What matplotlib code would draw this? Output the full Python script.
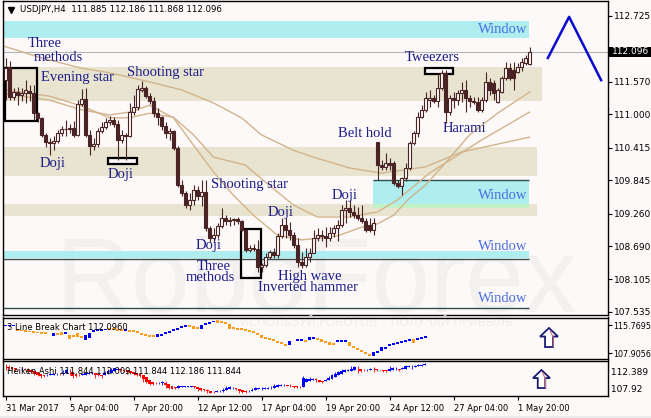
import numpy as np
import matplotlib
matplotlib.use("Agg")
import matplotlib.pyplot as plt
from matplotlib.patches import Rectangle, Polygon

# ==================== DATA ====================
# USDJPY H4 candles (bar 0 = 31 Mar 2017 12:00)
opens = [111.60, 111.83, 111.30, 111.39, 111.34, 111.37, 111.41, 111.37, 111.02, 110.94,
         110.64, 110.51, 110.50, 110.53, 110.67, 110.74, 110.75, 110.76, 110.64, 111.18,
         111.27, 110.64, 110.44, 110.48, 110.71, 110.78, 110.87, 110.90, 110.83, 110.55,
         110.64, 110.62, 111.04, 111.13, 111.43, 111.46, 111.32, 111.23, 111.02, 110.95,
         110.80, 110.67, 110.71, 110.41, 109.76, 109.62, 109.41, 109.50, 109.67, 109.57,
         109.64, 109.01, 108.83, 108.88, 109.04, 109.18, 109.13, 109.15, 109.16, 109.13,
         108.97, 108.62, 108.66, 108.64, 108.32, 108.36, 108.50, 108.58, 108.53, 108.87,
         109.06, 108.97, 108.88, 108.71, 108.41, 108.36, 108.50, 108.57, 108.83, 108.88,
         108.87, 108.83, 108.92, 109.01, 109.06, 109.32, 109.36, 109.29, 109.23, 109.18,
         109.13, 109.06, 108.97, 110.51, 110.11, 110.08, 110.15, 110.15, 109.80, 109.74,
         109.88, 110.06, 110.50, 110.67, 110.95, 111.08, 111.25, 111.29, 111.23, 111.46,
         111.73, 111.04, 111.29, 111.25, 111.37, 111.43, 111.29, 111.23, 111.22, 111.08,
         111.25, 111.57, 111.55, 111.22, 111.39, 111.64, 111.81, 111.78, 111.74, 111.83,
         111.90, 111.885]
highs = [111.99, 111.94, 111.46, 111.48, 111.46, 111.60, 111.51, 111.51, 111.04, 110.95,
         110.67, 110.59, 110.62, 110.73, 110.80, 110.90, 110.83, 110.88, 111.25, 111.44,
         111.46, 110.73, 110.59, 110.76, 110.87, 110.94, 110.97, 110.95, 110.90, 110.73,
         110.67, 111.20, 111.34, 111.51, 111.59, 111.50, 111.37, 111.30, 111.11, 110.97,
         110.87, 110.76, 110.73, 110.44, 109.85, 109.66, 109.62, 109.76, 109.74, 109.85,
         109.85, 109.04, 109.01, 109.09, 109.36, 109.23, 109.20, 109.18, 109.20, 109.15,
         108.99, 108.71, 108.73, 108.80, 108.39, 108.57, 108.62, 108.66, 108.92, 109.18,
         109.18, 109.11, 108.94, 108.83, 108.59, 108.66, 108.66, 108.97, 109.01, 108.97,
         109.02, 109.02, 109.06, 109.15, 109.41, 109.50, 109.50, 109.41, 109.37, 109.41,
         109.18, 109.18, 109.18, 110.51, 110.20, 110.32, 110.23, 110.18, 109.85, 109.90,
         110.15, 110.53, 110.71, 111.04, 111.16, 111.39, 111.43, 111.34, 111.73, 111.78,
         111.78, 111.34, 111.39, 111.43, 111.57, 111.60, 111.34, 111.30, 111.30, 111.30,
         111.74, 111.64, 111.60, 111.46, 111.67, 111.92, 111.90, 111.92, 111.90, 111.99,
         112.04, 112.186]
lows = [111.25, 111.25, 111.25, 111.16, 111.23, 111.20, 111.23, 110.90, 110.87, 110.60,
        110.43, 110.29, 110.37, 110.50, 110.62, 110.62, 110.67, 110.60, 110.62, 111.15,
        110.60, 110.29, 110.37, 110.43, 110.67, 110.74, 110.81, 110.78, 110.20, 110.50,
        110.20, 110.60, 110.99, 111.08, 111.39, 111.29, 111.18, 110.95, 110.81, 110.73,
        110.59, 110.55, 110.37, 109.73, 109.57, 109.36, 109.32, 109.41, 109.50, 109.39,
        108.95, 108.76, 108.76, 108.83, 109.01, 109.06, 109.04, 109.06, 109.08, 108.95,
        108.58, 108.58, 108.60, 108.23, 108.23, 108.32, 108.46, 108.48, 108.48, 108.83,
        108.83, 108.80, 108.66, 108.32, 108.30, 108.32, 108.41, 108.57, 108.78, 108.78,
        108.67, 108.78, 108.85, 108.78, 109.02, 109.09, 109.20, 109.18, 109.15, 109.09,
        108.94, 108.94, 108.88, 109.85, 110.02, 110.02, 110.02, 109.76, 109.71, 109.59,
        109.83, 110.02, 110.46, 110.60, 110.94, 111.04, 111.13, 111.20, 111.13, 111.43,
        110.85, 110.99, 111.11, 111.16, 111.22, 111.04, 111.13, 111.18, 111.04, 111.04,
        111.22, 111.34, 111.25, 111.20, 111.37, 111.60, 111.60, 111.43, 111.73, 111.76,
        111.87, 111.868]
closes = [111.81, 111.30, 111.39, 111.34, 111.37, 111.43, 111.37, 111.02, 110.94, 110.64,
          110.51, 110.50, 110.53, 110.67, 110.74, 110.75, 110.76, 110.64, 111.18, 111.27,
          110.64, 110.44, 110.48, 110.71, 110.78, 110.87, 110.90, 110.83, 110.55, 110.64,
          110.62, 111.04, 111.13, 111.44, 111.46, 111.32, 111.23, 111.02, 110.95, 110.80,
          110.67, 110.71, 110.41, 109.76, 109.62, 109.41, 109.50, 109.67, 109.57, 109.64,
          109.01, 108.83, 108.88, 109.04, 109.18, 109.13, 109.15, 109.16, 109.13, 108.97,
          108.62, 108.66, 108.64, 108.32, 108.36, 108.50, 108.58, 108.53, 108.87, 109.06,
          108.97, 108.88, 108.71, 108.41, 108.36, 108.50, 108.57, 108.83, 108.88, 108.87,
          108.83, 108.92, 109.01, 109.06, 109.32, 109.36, 109.29, 109.23, 109.18, 109.13,
          108.97, 108.97, 109.09, 110.11, 110.08, 110.15, 110.11, 109.80, 109.74, 109.88,
          110.06, 110.50, 110.67, 110.95, 111.08, 111.29, 111.29, 111.23, 111.46, 111.73,
          111.04, 111.29, 111.25, 111.37, 111.43, 111.29, 111.23, 111.22, 111.08, 111.25,
          111.57, 111.43, 111.37, 111.43, 111.64, 111.81, 111.64, 111.64, 111.83, 111.92,
          111.99, 112.096]

tick_pos = [0, 16, 32, 48, 64, 80, 96, 112, 128]
tick_labels = ["31 Mar 2017", "5 Apr 04:00", "7 Apr 20:00", "12 Apr 12:00", "17 Apr 04:00",
               "19 Apr 20:00", "24 Apr 12:00", "27 Apr 04:00", "1 May 20:00"]
price_ticks = [112.725, 111.570, 111.000, 110.415, 109.845, 109.260, 108.690, 108.105, 107.535]
bid = 112.096

# moving averages (bar index, price)
ma_slow_x = [-0.6, 9, 19, 26, 36, 44, 52, 59, 64, 72, 77, 86, 94, 105, 114, 131]
ma_slow_y = [112.20, 111.99, 111.81, 111.73, 111.57, 111.43, 111.20, 110.94, 110.64, 110.37,
             110.25, 110.06, 109.97, 110.08, 110.34, 110.60]
ma_mid_x = [-0.6, 11, 19, 26, 31, 36, 42, 47, 52, 60, 65, 72, 78, 86, 93, 98, 106, 119, 131]
ma_mid_y = [111.43, 111.32, 111.15, 110.94, 110.94, 111.02, 110.95, 110.64, 110.25, 110.11,
            109.81, 109.41, 109.20, 109.20, 109.29, 109.50, 109.97, 110.55, 111.04]
ma_fast_x = [-0.6, 11, 19, 26, 31, 36, 42, 47, 52, 57, 62, 68, 74, 79, 83, 89, 93, 97, 101,
             105, 110, 116, 123, 131]
ma_fast_y = [111.37, 111.25, 111.08, 110.99, 111.04, 111.16, 110.94, 110.46, 109.99, 109.58,
             109.23, 108.88, 108.80, 108.83, 108.87, 109.02, 109.08, 109.23, 109.53, 109.76,
             110.15, 110.64, 111.02, 111.39]

# zigzag forecast in the top right corner
zig_x = [135.6, 140.9, 148.9]
zig_y = [111.99, 112.71, 111.60]

# 3 Line Break bricks: position, top, bottom, up(1)/down(0)
lb_x = [0, 1, 2, 3, 4, 5, 6, 7, 8, 9, 10, 12, 13, 14, 15, 16, 17, 18, 19, 20,
        21, 22, 23, 24, 25, 26, 27, 28, 29, 30, 31, 32, 33, 34, 35, 36, 37, 38, 39, 40,
        41, 42, 43, 44, 45, 46, 47, 48, 49, 50, 51, 52, 53, 54, 55, 56, 57, 58, 59, 60,
        61, 62, 63, 64, 65, 66, 67, 68, 69, 70, 71, 73, 74, 75, 76, 77, 78, 79, 80, 81,
        82, 83, 84, 85, 86, 87, 88, 89, 90, 91, 92, 93, 94, 95, 96, 97, 98, 99, 100, 101,
        102, 103, 104, 105]
lb_hi = [115.63, 115.63, 115.63, 114.37, 114.22, 114.08, 113.94, 113.80, 113.66, 113.52,
         113.52, 113.52, 113.24, 113.80, 113.52, 112.96, 112.68, 113.52, 112.40, 112.96,
         113.52, 114.08, 114.37, 114.37, 114.51, 114.65, 114.65, 114.37, 114.37, 114.37,
         114.08, 114.08, 113.80, 113.24, 112.96, 112.68, 112.68, 113.24, 112.96, 113.52,
         113.80, 114.37, 114.65, 115.21, 115.49, 115.49, 115.49, 114.93, 115.77, 116.05,
         116.33, 116.75, 117.17, 116.61, 116.33, 116.05, 114.93, 114.65, 114.65, 114.37,
         114.08, 113.80, 113.24, 112.96, 112.12, 111.84, 111.56, 111.00, 110.71, 110.15,
         111.28, 111.56, 111.56, 111.28, 112.40, 112.40, 111.84, 111.84, 111.00, 111.00,
         110.71, 111.28, 111.28, 111.28, 111.00, 109.59, 109.03, 108.47, 107.91, 107.34,
         108.19, 108.19, 109.59, 109.31, 110.15, 110.43, 110.71, 111.00, 111.28, 111.56,
         111.84, 111.84, 112.12, 112.40]
lb_lo = [115.63, 115.63, 115.63, 114.37, 114.22, 114.08, 113.94, 113.80, 113.66, 113.52,
         113.52, 112.68, 113.24, 112.96, 113.52, 111.84, 112.68, 112.40, 112.40, 111.56,
         112.12, 114.08, 114.37, 114.37, 114.51, 114.65, 114.65, 114.37, 114.37, 114.37,
         114.08, 114.08, 113.80, 113.24, 112.96, 112.68, 112.68, 112.40, 112.96, 113.52,
         113.80, 114.37, 114.65, 115.21, 115.49, 115.49, 114.65, 114.93, 114.65, 116.05,
         116.33, 116.75, 116.33, 116.61, 116.33, 114.65, 114.93, 114.65, 114.65, 114.37,
         114.08, 113.80, 113.24, 112.12, 112.12, 111.84, 111.56, 111.00, 110.71, 110.15,
         110.15, 111.56, 111.56, 111.28, 111.56, 111.84, 111.84, 111.00, 111.00, 110.15,
         110.15, 111.28, 111.28, 111.28, 109.87, 109.59, 109.03, 108.47, 107.91, 107.34,
         107.06, 108.19, 108.47, 109.31, 110.15, 110.43, 110.71, 111.00, 111.28, 111.56,
         110.71, 111.84, 112.12, 112.40]
lb_up = [1, 1, 1, 0, 0, 0, 0, 0, 0, 0, 0, 1, 0, 0, 1, 0, 0, 0, 0, 1,
         1, 1, 1, 1, 1, 0, 0, 0, 0, 1, 0, 0, 0, 0, 0, 0, 0, 1, 1, 1,
         1, 1, 1, 1, 1, 0, 0, 0, 1, 1, 1, 1, 0, 0, 0, 0, 0, 0, 0, 0,
         0, 0, 0, 0, 0, 0, 0, 0, 0, 0, 1, 1, 1, 0, 1, 1, 0, 0, 0, 0,
         0, 1, 1, 1, 0, 0, 0, 0, 0, 0, 1, 1, 1, 1, 1, 1, 1, 1, 1, 1,
         0, 1, 1, 1]

# ==================== STYLE ====================
W, H = 651, 418
BG = "#fdf9f8"
CANDLE = "#4a2424"
NAVY = "#1c1c8a"
WINBLUE = "#4a6ee0"
CYAN = "#aeeeee"
TAN = "#e8e4d0"
GREEN = "#c4f2c8"
MA_COL = "#d2b48c"
LINE_DK = "#2f4f4f"
SERIF = "Liberation Serif"
XL = (-0.625, 150.625)


def fx(px):
    return px / W


def fy(py):
    return 1 - py / H


fig = plt.figure(figsize=(W / 100, H / 100), dpi=100, facecolor=BG)
ax = fig.add_axes([fx(3), fy(315), 605 / W, 314 / H])
ax1 = fig.add_axes([fx(3), fy(358.5), 605 / W, 41 / H])
ax2 = fig.add_axes([fx(3), fy(396), 605 / W, 35.5 / H])

for a in (ax, ax1, ax2):
    a.set_facecolor(BG)
    a.set_xlim(*XL)
    for s in a.spines.values():
        s.set_color("black")
        s.set_linewidth(1.0)
    a.yaxis.tick_right()
    a.tick_params(axis="y", length=3, width=0.8, pad=1.5, labelsize=6.5, colors="black")
    a.tick_params(axis="x", bottom=False, labelbottom=False)

ax.set_ylim(107.482, 112.988)
ax1.set_ylim(106.361, 117.876)
ax2.set_ylim(107.9, 112.5)

# ==================== MAIN: zones ====================
def band(y0, y1, x0, x1, col, z=1):
    ax.add_patch(Rectangle((x0, y0), x1 - x0, y1 - y0, facecolor=col, edgecolor="none", zorder=z))

band(112.339, 112.637, XL[0], 130.9, CYAN)
band(111.235, 111.831, XL[0], 134.0, TAN)
band(109.919, 110.428, XL[0], 132.9, TAN)
band(109.218, 109.428, XL[0], 132.9, TAN)
band(109.358, 109.849, 91.9, 130.9, CYAN)
band(109.358, 109.428, 91.9, 130.9, GREEN)
band(108.482, 108.604, XL[0], 130.9, CYAN)
ax.hlines([108.464, 107.605], XL[0], 130.9, color=LINE_DK, lw=1.0, zorder=1.5)
ax.hlines(109.849, 91.9, 130.9, color=LINE_DK, lw=1.0, zorder=1.5)
ax.axhline(bid, color="#b4b4b4", lw=0.8, zorder=1.5)

# watermark
ax.text(fx(55), fy(312), "RoboForex", transform=fig.transFigure, fontsize=76,
        family="Liberation Sans", color="#f4f0f0", ha="left", va="baseline", zorder=0.5)

# moving averages
ax.plot(ma_slow_x, ma_slow_y, color=MA_COL, lw=1.0, zorder=2)
ax.plot(ma_mid_x, ma_mid_y, color=MA_COL, lw=1.0, zorder=2)
ax.plot(ma_fast_x, ma_fast_y, color=MA_COL, lw=1.0, zorder=2)

# pattern boxes
boxes = [(-0.1, 7.9, 110.88, 111.81, False), (25.6, 32.9, 110.13, 110.23, True),
         (58.9, 63.9, 108.13, 108.99, False), (104.9, 111.9, 111.71, 111.81, True)]
for x0, x1, y0, y1, filled in boxes:
    ax.add_patch(Rectangle((x0, y0), x1 - x0, y1 - y0, facecolor=BG if filled else "none",
                           edgecolor="black", lw=1.6, zorder=3))

# candles
o, h, l, c = map(np.array, (opens, highs, lows, closes))
idx = np.arange(len(c))
up = c >= o
ax.vlines(idx, l, h, color=CANDLE, lw=0.8, zorder=4)
body_lo = np.minimum(o, c)
body_h = np.maximum(np.abs(c - o), 0.004)
ax.bar(idx[up], body_h[up], bottom=body_lo[up], width=0.6, facecolor=BG,
       edgecolor=CANDLE, lw=0.8, zorder=5)
ax.bar(idx[~up], body_h[~up], bottom=body_lo[~up], width=0.6, facecolor=CANDLE,
       edgecolor=CANDLE, lw=0.8, zorder=5)

# zigzag
ax.plot(zig_x, zig_y, color="#0a0ad0", lw=1.8, zorder=6, clip_on=False)

# labels
labels = [
    ("Three", 5.6, 112.234), ("methods", 7.1, 111.989), ("Evening star", 8.9, 111.655),
    ("Shooting star", 30.4, 111.743), ("Doji", 8.6, 110.130), ("Doji", 25.6, 109.937),
    ("Shooting star", 51.4, 109.762), ("Doji", 47.6, 108.700), ("Three", 47.9, 108.330),
    ("methods", 45.1, 108.140), ("Doji", 65.6, 109.288), ("High wave", 68.1, 108.149),
    ("Inverted hammer", 63.1, 107.956), ("Doji", 81.6, 109.569), ("Belt hold", 83.1, 110.656),
    ("Tweezers", 99.9, 111.989), ("Harami", 109.4, 110.744),
]
for t, x, y in labels:
    ax.text(x, y, t, family=SERIF, fontsize=10.5, color=NAVY, ha="left", va="center", zorder=7)
for y in (112.480, 109.586, 108.675, 107.763):
    ax.text(130.6, y, "Window", family=SERIF, fontsize=10.5, color=WINBLUE,
            ha="right", va="center", zorder=7)

# axis ticks
ax.set_yticks(price_ticks)
ax.set_yticklabels([f"{v:.3f}" for v in price_ticks])
ax.set_xticks([])

# header
ax.plot([fx(11)], [fy(9.5)], marker="v", ms=4, color="black", transform=fig.transFigure,
        clip_on=False, zorder=8)
ax.text(fx(20), fy(10), "USDJPY,H4  111.885 112.186 111.868 112.096", transform=fig.transFigure,
        fontsize=6.2, color="black", ha="left", va="center", zorder=8)

# bid label box
fig.patches.append(Rectangle((fx(608), fy(56.5)), 43 / W, 9.5 / H, transform=fig.transFigure,
                             facecolor="black", edgecolor="none", zorder=5))
fig.text(fx(612), fy(52), f"{bid:.3f}", color="white", fontsize=6.5, ha="left", va="center",
         zorder=6)

# ==================== 3 LINE BREAK ====================
lb_hi_a = np.array(lb_hi)
lb_lo_a = np.array(lb_lo)
lb_h = np.maximum(lb_hi_a - lb_lo_a, 0.45)
lb_bot = np.where(lb_hi_a - lb_lo_a < 0.45, lb_hi_a - 0.225, lb_lo_a)
lb_cols = ["#0000ff" if u else "#ff9a1a" for u in lb_up]
ax1.bar(lb_x, lb_h, bottom=lb_bot, width=0.9, color=lb_cols, lw=0, zorder=3)
ax1.set_yticks([115.7695, 107.9056])
ax1.set_yticklabels(["115.7695", "107.9056"])
ax1.tick_params(axis="y", labelsize=5.8, pad=1.0)
ax1.text(fx(240), fy(323), "ИСПОЛЬЗУЙ РОБОТОВ – ПОЛУЧАЙ ПРИБЫЛЬ", transform=fig.transFigure,
         fontsize=8.5, color="#f1eded", ha="left", va="center", zorder=1)
ax1.text(fx(7), fy(327), "3 Line Break Chart 112.0960", transform=fig.transFigure,
         fontsize=6.0, color="black", ha="left", va="center", zorder=5)

# ==================== HEIKEN ASHI ====================
ha_c = (o + h + l + c) / 4
ha_o = np.empty_like(ha_c)
ha_o[0] = (o[0] + c[0]) / 2
for k in range(1, len(ha_c)):
    ha_o[k] = (ha_o[k - 1] + ha_c[k - 1]) / 2
ha_h = np.maximum.reduce([h, ha_o, ha_c])
ha_l = np.minimum.reduce([l, ha_o, ha_c])
ha_x = idx * 0.8
ha_col = np.where(ha_c >= ha_o, "#0000ff", "#ff0000")
ax2.vlines(ha_x, ha_l, ha_h, colors=ha_col, lw=0.6, zorder=3)
ax2.bar(ha_x, np.maximum(np.abs(ha_c - ha_o), 0.04), bottom=np.minimum(ha_o, ha_c),
        width=0.7, color=ha_col, lw=0, zorder=4)
ax2.set_yticks([])
for frac, t in ((0.676, "112.389"), (0.197, "107.92")):
    ax2.text(1.0, frac, " " + t, transform=ax2.transAxes, fontsize=6.5, ha="left", va="center")
ax2.text(fx(7), fy(371), "Heiken Ashi 111.844 112.009 111.844 112.186 111.844",
         transform=fig.transFigure, fontsize=6.0, color="black", ha="left", va="center", zorder=5)

ax2.tick_params(axis="x", bottom=True, labelbottom=True, length=3, width=0.8, pad=3,
                labelsize=6.0, direction="out")
ax2.set_xticks(tick_pos)
ax2.set_xticklabels(tick_labels)
for lbl in ax2.get_xticklabels():
    lbl.set_ha("left")

# up arrows in the sub windows
def up_arrow(x0, y0, x1, y1):
    xm = (x0 + x1) / 2
    hw = (x1 - x0) * 0.22
    yh = y0 + (y1 - y0) * 0.45
    pts = [(xm, y0), (x1, yh), (xm + hw, yh), (xm + hw, y1), (xm - hw, y1), (xm - hw, yh), (x0, yh)]
    pts = [(fx(px), fy(py)) for px, py in pts]
    fig.patches.append(Polygon(pts, closed=True, transform=fig.transFigure, facecolor="white",
                               edgecolor="#1a1a70", lw=1.3, zorder=6))
    inner = [(fx(px + 1.2), fy(py + 0.8)) for px, py in
             [(xm, y0 + 2), (xm + hw - 1, yh), (xm + hw - 1, y1 - 1)]]
    fig.lines.append(plt.Line2D([p[0] for p in inner], [p[1] for p in inner],
                                transform=fig.transFigure, color="#d07080", lw=0.8, zorder=7))

up_arrow(540, 328, 558, 347)
up_arrow(533, 370, 550, 388)

# bottom strip
fig.patches.append(Rectangle((0, 0), 1, 2.5 / H, transform=fig.transFigure,
                             facecolor="#ececec", edgecolor="none", zorder=0))

fig.savefig("out.png", dpi=100, facecolor=BG)
